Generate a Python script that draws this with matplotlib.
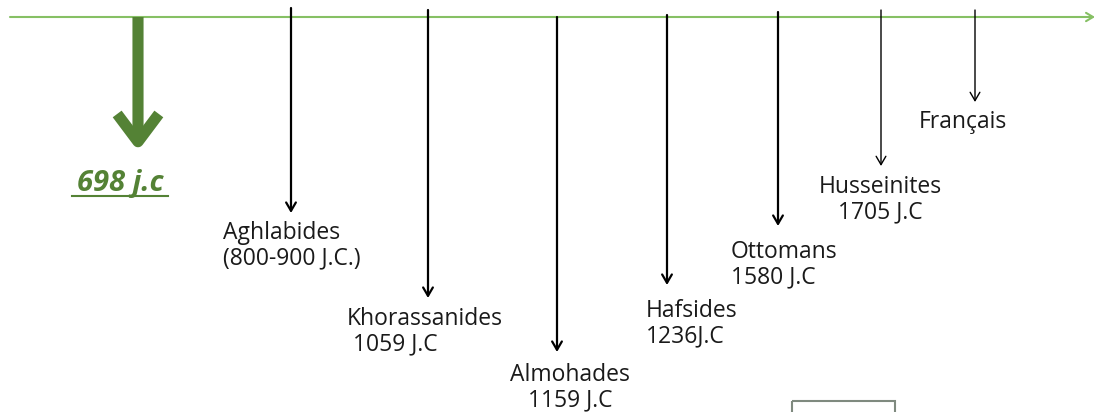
import matplotlib.pyplot as plt
from matplotlib.patches import Rectangle

# timeline data
dynasties = ['Aghlabides', 'Khorassanides', 'Almohades', 'Hafsides',
             'Ottomans', 'Husseinites', 'Français']
dates = ['(800-900 J.C.)', ' 1059 J.C', '1159 J.C', '1236J.C',
         '1580 J.C', '1705 J.C', '']
start_label = '698 j.c'

# layout (pixel coords, y downwards)
arrow_x = [291, 428, 557, 667, 778, 881, 975]
arrow_top = [8, 10, 17, 15, 12, 10, 10]
arrow_tip = [213, 298, 352, 285, 226, 166, 102]
arrow_lw = [1.6, 1.6, 1.6, 1.6, 1.6, 1.0, 1.0]
label_x = [223, 347, 570, 646, 731, 880, 919]
label_y = [231, 317, 373, 309, 250, 185, 120]
label_ha = ['left', 'left', 'center', 'left', 'left', 'center', 'left']

FONT = 'Open Sans'
FS = 16.5

fig = plt.figure(figsize=(10.98, 4.12), dpi=100)
ax = fig.add_axes([0, 0, 1, 1])
ax.set_xlim(0, 1098)
ax.set_ylim(412, 0)
ax.axis('off')

# green time axis
ax.annotate('', xy=(1095, 17), xytext=(10, 17),
            arrowprops=dict(arrowstyle='->,head_length=0.5,head_width=0.3',
                            color='#86c064', lw=1.5, shrinkA=0, shrinkB=0))

# big green start arrow
ax.annotate('', xy=(138, 151), xytext=(138, 17),
            arrowprops=dict(arrowstyle='->,head_length=1.0,head_width=0.75',
                            mutation_scale=20, color='#548235', lw=8,
                            shrinkA=0, shrinkB=0, joinstyle='round',
                            capstyle='butt'))
ax.text(120, 183, start_label, color='#548235', fontsize=21, fontweight='bold',
        fontstyle='italic', family=FONT, ha='center', va='center')
ax.plot([72, 168], [196, 196], color='#548235', lw=1.5)

# dynasty arrows and labels
for i in range(len(dynasties)):
    ax.annotate('', xy=(arrow_x[i], arrow_tip[i]), xytext=(arrow_x[i], arrow_top[i]),
                arrowprops=dict(arrowstyle='->,head_length=0.6,head_width=0.35',
                                color='black', lw=arrow_lw[i], shrinkA=0, shrinkB=0))
    txt = dynasties[i] if dates[i] == '' else dynasties[i] + '\n' + dates[i]
    ax.text(label_x[i], label_y[i] - 10, txt, fontsize=FS, family=FONT,
            ha=label_ha[i], va='top', ma=label_ha[i], linespacing=1.05,
            color='#1a1a1a')

# partial box at bottom
ax.add_patch(Rectangle((792, 401), 103, 30, fill=False, edgecolor='#7f8a7f', lw=1.5))

fig.savefig('out.png', dpi=100)
